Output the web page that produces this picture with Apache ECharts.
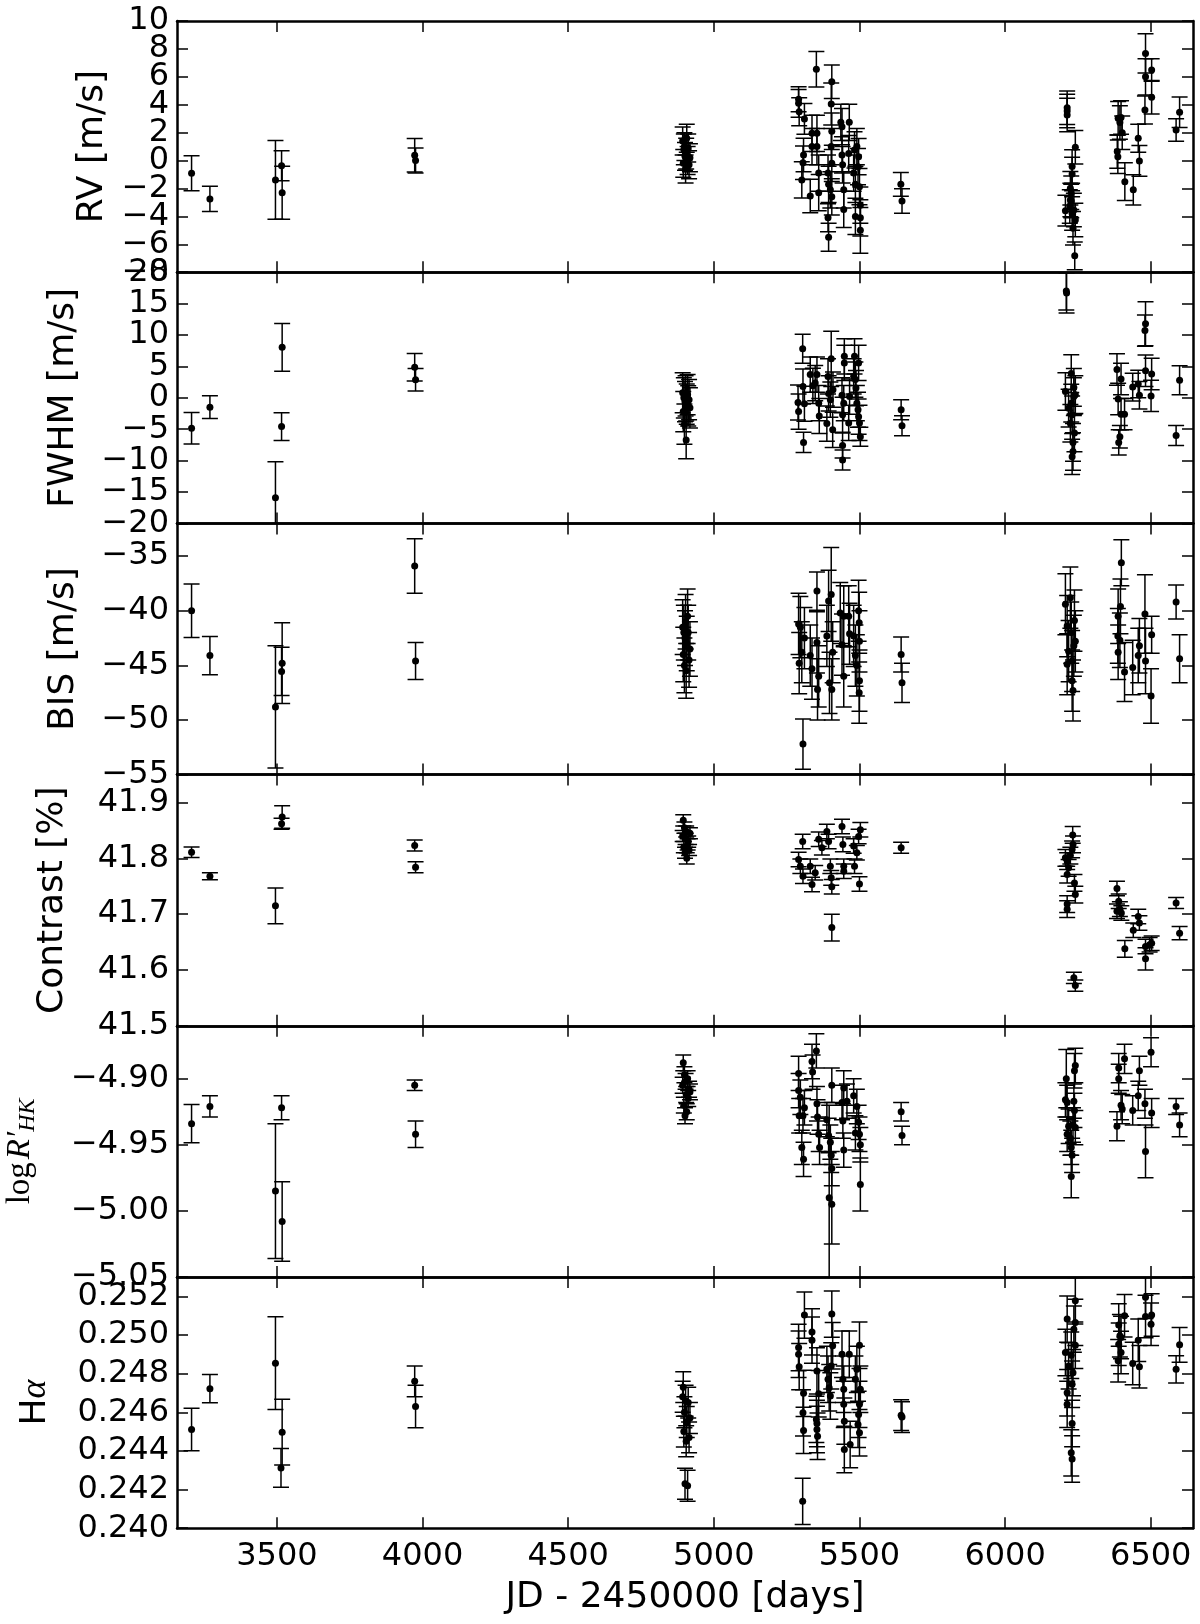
<!DOCTYPE html>
<html><head><meta charset="utf-8">
<script src="https://cdn.jsdelivr.net/npm/echarts@6/dist/echarts.min.js"></script>
<style>html,body{margin:0;padding:0;background:#fff}#c{width:1200px;height:1624px}</style>
</head><body><div id="c"></div>
<script>
// ---------- tick labels ----------
const xTicks = [3500, 4000, 4500, 5000, 5500, 6000, 6500];
const rvTicks = [-8, -6, -4, -2, 0, 2, 4, 6, 8, 10];
const fwhmTicks = [-20, -15, -10, -5, 0, 5, 10, 15, 20];
const bisTicks = [-55, -50, -45, -40, -35];
const contrastTicks = [41.5, 41.6, 41.7, 41.8, 41.9];
const rhkTicks = [-5.05, -5.00, -4.95, -4.90];
const haTicks = [0.240, 0.242, 0.244, 0.246, 0.248, 0.250, 0.252];

// ---------- data: [JD-2450000, value, error] ----------
const rvData = [
[3207,-0.91,1.25],[3270,-2.75,0.9],[3495,-1.39,2.82],[3516,-0.37,1.08],[3518,-2.3,1.9],
[3973,0.38,1.2],[3976,0.0,0.9],
[4893,1.4,1.0],[4895,-0.2,1.0],[4897,0.8,1.1],[4899,1.0,1.0],[4901,0.3,1.0],[4903,-0.6,1.0],
[4905,0.5,1.1],[4907,1.6,1.0],[4910,0.0,1.0],[4912,0.9,1.0],[4915,-0.3,1.0],[4918,0.2,1.0],
[5291,4.39,0.9],[5291,4.1,1.0],[5293,3.5,1.0],[5311,2.98,1.1],[5308,0.4,1.2],[5306,-0.15,1.2],
[5302,-1.39,1.3],[5331,-2.54,1.2],[5337,1.0,1.3],[5337,1.95,1.3],[5352,6.54,1.27],[5354,1.95,1.3],
[5354,1.0,1.3],[5360,-0.9,1.3],[5360,-2.3,1.3],[5392,-0.9,1.3],[5394,-1.7,1.3],[5392,-4.1,1.0],
[5394,-5.5,1.0],[5405,5.65,1.2],[5403,4.05,1.5],[5405,2.1,1.3],[5403,1.0,1.3],[5405,-0.2,1.3],
[5405,-2.6,1.3],[5400,-2.1,1.3],[5436,2.74,1.3],[5440,2.43,1.3],[5440,0.4,1.3],[5442,-0.3,1.3],
[5446,-2.1,1.3],[5446,-3.5,1.3],[5465,2.74,1.3],[5463,0.5,1.3],[5480,-0.9,1.3],[5486,-1.7,1.3],
[5486,-4.0,1.3],[5491,1.0,1.3],[5497,0.28,1.3],[5500,-1.87,1.3],[5503,-3.2,1.3],[5503,-4.1,1.3],
[5503,-5.0,1.64],[5495,-0.44,1.3],[5483,0.76,1.3],
[5642,-1.7,0.85],[5646,-2.9,0.88],
[6213,3.79,1.2],[6213,3.55,1.2],[6213,3.27,1.2],[6241,0.95,1.2],[6230,-0.43,1.2],[6230,-0.96,1.2],
[6224,-1.99,1.2],[6227,-2.3,1.2],[6224,-2.82,1.2],[6222,-3.3,1.2],[6207,-3.59,1.1],[6236,-3.55,1.2],
[6241,-4.26,1.2],[6233,-4.85,1.2],[6239,-6.83,1.0],[6227,-2.9,1.2],[6230,-3.8,1.2],
[6388,3.03,1.2],[6394,2.72,1.2],[6398,3.08,1.2],[6402,2.0,1.2],[6385,0.64,1.2],[6387,0.28,1.2],
[6411,-1.51,1.36],[6440,-2.1,1.08],[6457,1.6,1.0],[6461,-0.03,1.1],[6480,3.62,1.0],[6482,6.0,1.3],
[6482,7.68,1.4],[6503,6.49,0.8],[6503,4.53,1.2],
[6587,2.19,0.8],[6599,3.46,1.1]
];
const fwhmData = [
[3207,-4.84,2.5],[3270,-1.49,1.8],[3495,-15.9,5.7],[3518,8.03,3.8],[3516,-4.58,2.2],
[3973,4.87,2.2],[3976,2.87,1.8],
[4893,0.8,3.2],[4895,-2.2,3.2],[4897,0.0,3.2],[4899,-4.2,3.2],[4901,-0.6,3.2],[4903,0.3,3.2],
[4905,-6.7,3.0],[4907,-1.0,3.2],[4910,0.5,3.2],[4912,-1.3,3.2],[4915,-0.3,3.2],[4918,-1.6,3.2],
[5305,7.8,2.3],[5291,-2.2,2.8],[5289,-0.75,2.8],[5308,-7.1,1.6],[5306,1.8,2.8],[5311,-0.95,2.8],
[5331,3.7,2.8],[5340,1.9,2.8],[5348,2.35,2.8],[5354,3.7,2.8],[5360,-0.85,2.8],[5362,-2.9,2.8],
[5388,-4.1,2.8],[5392,3.4,2.8],[5394,0.7,2.8],[5403,6.2,4.4],[5400,-0.3,2.8],[5408,-5.1,2.8],
[5409,1.3,2.8],[5440,0.4,2.8],[5442,-2.7,2.8],[5442,-7.6,2.0],[5442,-9.9,1.6],[5448,6.6,2.8],
[5448,5.55,2.8],[5446,-0.85,2.8],[5466,0.2,2.8],[5463,-4.0,2.8],[5480,3.4,2.8],[5483,6.6,2.8],
[5488,1.55,2.8],[5491,-0.85,2.8],[5497,5.55,2.8],[5497,-3.0,2.8],[5500,-4.0,2.8],[5503,-6.2,1.5],
[5495,-1.9,2.8],[5486,2.9,2.8],
[5643,-1.9,1.6],[5646,-4.45,1.6],
[6210,17.0,3.0],[6211,16.7,3.2],[6227,3.85,3.0],[6207,1.0,3.0],[6236,1.65,3.0],[6241,0.5,3.0],
[6218,-1.65,3.0],[6230,-2.7,3.0],[6224,-4.05,3.0],[6238,-5.6,3.0],[6233,-7.1,3.0],[6233,-8.55,3.0],
[6230,-9.4,2.8],[6227,-0.85,3.0],[6236,0.2,3.0],
[6384,4.5,2.5],[6398,3.0,2.5],[6388,-0.2,2.5],[6398,-2.6,2.5],[6410,-2.6,2.5],[6394,-6.2,1.8],
[6390,-7.1,2.0],[6438,1.7,2.2],[6457,2.2,2.2],[6461,0.4,2.2],[6482,4.3,2.5],[6482,11.8,3.5],
[6480,10.7,2.5],[6503,3.8,2.5],[6501,0.3,2.5],
[6599,2.8,2.3],[6587,-6.0,1.6]
];
const bisData = [
[3207,-40.0,2.45],[3270,-44.1,1.75],[3495,-48.8,5.6],[3518,-44.8,3.7],[3516,-45.55,2.2],
[3973,-35.9,2.5],[3976,-44.6,1.7],
[4893,-41.5,2.5],[4895,-44.0,2.5],[4897,-42.0,2.5],[4899,-45.0,2.5],[4901,-42.5,2.5],[4903,-41.0,2.5],
[4905,-45.5,2.5],[4907,-43.0,2.5],[4910,-40.5,2.5],[4912,-42.0,2.5],[4915,-44.5,2.5],[4918,-43.5,2.5],
[5291,-41.2,2.8],[5293,-44.8,2.8],[5297,-41.5,2.8],[5302,-43.8,2.8],[5306,-52.2,2.3],[5311,-42.5,2.8],
[5331,-44.1,2.8],[5337,-45.3,2.8],[5354,-38.2,1.75],[5354,-42.9,2.8],[5356,-47.2,2.8],[5360,-46.0,2.8],
[5388,-42.3,2.8],[5394,-39.1,2.8],[5397,-46.6,2.8],[5403,-38.5,4.3],[5405,-47.2,2.8],[5408,-43.8,2.8],
[5434,-40.2,2.8],[5440,-43.1,2.8],[5446,-40.5,2.8],[5446,-46.0,2.8],[5463,-40.5,2.8],[5466,-42.1,2.8],
[5480,-42.3,2.8],[5486,-44.1,2.8],[5497,-40.0,2.8],[5499,-41.1,2.8],[5500,-42.8,2.8],[5500,-46.4,2.8],
[5499,-47.5,2.8],[5491,-45.0,2.8],
[5643,-44.0,1.6],[5646,-46.6,1.8],
[6207,-39.4,2.8],[6213,-41.4,2.8],[6218,-43.7,2.8],[6224,-38.8,2.8],[6227,-42.0,2.8],[6230,-44.6,2.8],
[6238,-40.9,2.8],[6241,-42.8,2.8],[6213,-44.9,2.8],[6230,-46.4,2.8],[6233,-47.3,2.8],[6236,-43.2,2.8],
[6399,-35.6,2.1],[6396,-39.6,2.5],[6388,-40.5,2.5],[6387,-42.3,2.5],[6394,-42.7,2.5],[6388,-43.8,2.5],
[6410,-45.6,2.7],[6438,-45.2,2.5],[6457,-44.1,2.5],[6461,-43.2,2.5],[6480,-40.3,3.6],[6482,-44.6,3.0],
[6503,-42.2,1.7],[6501,-47.8,2.5],
[6587,-39.2,1.55],[6599,-44.4,2.2]
];
const contrastData = [
[3207,41.811,0.0095],[3270,41.768,0.0063],[3495,41.715,0.032],[3518,41.874,0.02],[3516,41.862,0.01],
[3973,41.823,0.01],[3976,41.784,0.01],
[4893,41.84,0.01],[4895,41.868,0.01],[4897,41.82,0.01],[4899,41.855,0.01],[4901,41.81,0.01],
[4903,41.835,0.01],[4905,41.848,0.01],[4907,41.80,0.01],[4910,41.825,0.01],[4912,41.83,0.01],
[4915,41.815,0.01],[4918,41.845,0.01],
[5305,41.830,0.013],[5291,41.798,0.013],[5297,41.786,0.013],[5306,41.768,0.013],[5337,41.753,0.013],
[5348,41.774,0.013],[5331,41.786,0.013],[5360,41.834,0.013],[5371,41.819,0.013],[5388,41.848,0.013],
[5394,41.830,0.013],[5400,41.786,0.013],[5403,41.765,0.013],[5405,41.749,0.013],[5405,41.676,0.024],
[5440,41.857,0.013],[5443,41.825,0.013],[5446,41.786,0.013],[5446,41.777,0.013],[5480,41.822,0.013],
[5483,41.786,0.013],[5491,41.810,0.013],[5503,41.851,0.013],[5500,41.754,0.013],[5497,41.839,0.013],
[5643,41.819,0.01],
[6232,41.842,0.015],[6233,41.825,0.015],[6224,41.805,0.015],[6213,41.795,0.015],[6218,41.783,0.015],
[6213,41.771,0.015],[6238,41.756,0.015],[6241,41.735,0.015],[6213,41.718,0.015],[6213,41.709,0.015],
[6236,41.586,0.01],[6241,41.572,0.01],[6207,41.801,0.015],[6230,41.816,0.015],
[6384,41.746,0.013],[6390,41.723,0.013],[6394,41.709,0.013],[6399,41.702,0.013],[6384,41.705,0.013],
[6411,41.638,0.015],[6440,41.671,0.013],[6457,41.696,0.013],[6461,41.684,0.013],[6482,41.642,0.013],
[6482,41.620,0.02],[6503,41.648,0.013],[6496,41.645,0.013],
[6587,41.720,0.01],[6599,41.666,0.012]
];
const rhkData = [
[3207,-4.934,0.0145],[3270,-4.921,0.008],[3495,-4.985,0.051],[3518,-5.008,0.03],[3516,-4.922,0.009],
[3973,-4.905,0.004],[3976,-4.942,0.01],
[4893,-4.905,0.006],[4895,-4.888,0.006],[4897,-4.92,0.006],[4899,-4.897,0.006],[4901,-4.928,0.006],
[4903,-4.902,0.006],[4905,-4.912,0.006],[4907,-4.925,0.006],[4910,-4.90,0.006],[4912,-4.915,0.006],
[4915,-4.908,0.006],[4918,-4.91,0.006],
[5291,-4.896,0.013],[5291,-4.909,0.013],[5297,-4.914,0.013],[5293,-4.928,0.013],[5306,-4.928,0.013],
[5311,-4.922,0.013],[5302,-4.952,0.013],[5308,-4.961,0.013],[5337,-4.887,0.013],[5339,-4.895,0.013],
[5352,-4.879,0.013],[5354,-4.919,0.013],[5356,-4.929,0.013],[5360,-4.942,0.013],[5363,-4.952,0.013],
[5388,-4.931,0.013],[5394,-4.943,0.013],[5400,-4.948,0.013],[5403,-4.958,0.013],[5405,-4.905,0.013],
[5405,-4.968,0.013],[5405,-4.995,0.03],[5396,-4.99,0.07],[5440,-4.918,0.013],[5443,-4.932,0.013],
[5446,-4.907,0.013],[5446,-4.954,0.013],[5457,-4.917,0.013],[5480,-4.913,0.013],[5491,-4.921,0.013],
[5497,-4.933,0.013],[5500,-4.942,0.013],[5503,-4.950,0.013],[5503,-4.980,0.02],[5486,-4.941,0.013],
[5643,-4.925,0.007],[5646,-4.943,0.007],
[6210,-4.90,0.022],[6241,-4.890,0.013],[6238,-4.894,0.013],[6207,-4.916,0.013],[6213,-4.918,0.013],
[6236,-4.917,0.013],[6238,-4.924,0.013],[6233,-4.935,0.013],[6241,-4.937,0.013],[6213,-4.942,0.013],
[6224,-4.945,0.013],[6227,-4.952,0.013],[6230,-4.958,0.013],[6227,-4.974,0.016],[6218,-4.936,0.013],
[6410,-4.885,0.011],[6390,-4.892,0.011],[6390,-4.900,0.011],[6461,-4.894,0.011],[6501,-4.880,0.011],
[6398,-4.920,0.011],[6402,-4.923,0.011],[6384,-4.936,0.011],[6438,-4.924,0.011],[6457,-4.913,0.011],
[6480,-4.919,0.011],[6503,-4.926,0.011],[6482,-4.955,0.02],
[6587,-4.921,0.006],[6599,-4.935,0.009]
];
const haData = [
[3207,0.24511,0.0011],[3270,0.24722,0.00073],[3495,0.24854,0.0024],[3518,0.24497,0.0017],[3514,0.24312,0.001],
[3973,0.2476,0.0008],[3976,0.2463,0.0011],
[4893,0.2468,0.0008],[4895,0.2473,0.0008],[4897,0.2450,0.0008],[4899,0.2460,0.0008],[4901,0.2423,0.0008],
[4903,0.2466,0.0008],[4905,0.2445,0.0008],[4907,0.2455,0.0008],[4910,0.2422,0.0008],[4912,0.2465,0.0008],
[4915,0.2447,0.0008],[4918,0.2457,0.0008],
[5305,0.24139,0.0012],[5311,0.25103,0.0012],[5291,0.24935,0.0012],[5291,0.24900,0.0012],[5293,0.24836,0.0012],
[5308,0.24698,0.0012],[5306,0.24597,0.0012],[5308,0.24506,0.0012],[5337,0.25016,0.0012],[5337,0.24973,0.0012],
[5354,0.24814,0.0012],[5360,0.24696,0.0012],[5352,0.24563,0.0012],[5354,0.24542,0.0012],[5354,0.24511,0.0012],
[5356,0.24476,0.0012],[5388,0.24822,0.0012],[5392,0.24771,0.0012],[5396,0.24727,0.0012],[5400,0.24684,0.0012],
[5405,0.25108,0.0012],[5408,0.24944,0.0012],[5403,0.24840,0.0012],[5440,0.24900,0.0012],[5443,0.24771,0.0012],
[5446,0.24719,0.0012],[5446,0.24641,0.0012],[5448,0.24554,0.0012],[5448,0.24407,0.0012],[5465,0.24900,0.0012],
[5468,0.24433,0.0012],[5486,0.24771,0.0012],[5491,0.24822,0.0012],[5500,0.24947,0.0012],[5503,0.24719,0.0012],
[5500,0.24641,0.0012],[5497,0.24589,0.0012],[5500,0.24494,0.0012],[5495,0.24537,0.0012],
[5643,0.24585,0.0008],[5646,0.24575,0.0008],
[6241,0.25177,0.0012],[6213,0.25082,0.0012],[6241,0.25065,0.0012],[6236,0.25030,0.0012],[6241,0.24947,0.0012],
[6207,0.24909,0.0012],[6227,0.24895,0.0012],[6233,0.24805,0.0012],[6230,0.24745,0.0012],[6213,0.24701,0.0012],
[6213,0.24641,0.0012],[6230,0.24542,0.0012],[6227,0.24390,0.0012],[6230,0.24358,0.0012],[6218,0.24840,0.0012],
[6410,0.25100,0.0011],[6390,0.25051,0.0011],[6394,0.24996,0.0011],[6390,0.24952,0.0011],[6398,0.24909,0.0011],
[6388,0.24866,0.0011],[6438,0.24852,0.0011],[6457,0.24973,0.0011],[6461,0.24835,0.0011],[6482,0.25195,0.0011],
[6482,0.25096,0.0011],[6503,0.25103,0.0011],[6501,0.25056,0.0011],[6398,0.24987,0.0011],
[6599,0.24949,0.0009],[6587,0.24822,0.0007]
];

// ---------- layout / style ----------
const X_MIN = 3157, X_MAX = 6645;
const GRID_LEFT = 177, GRID_W = 1016, GRID_H = 251.2;
const GRID_TOPS = [21, 272.2, 523.4, 774.6, 1025.8, 1277];
const TICK_FONT = 32, NAME_FONT = 36;
const SANS = 'DejaVu Sans';
const SERIF = 'Liberation Serif';

const panels = [
  {name: 'RV [m/s]', data: rvData, ticks: rvTicks, min: -8, max: 10, dec: 0, gap: 66},
  {name: 'FWHM [m/s]', data: fwhmData, ticks: fwhmTicks, min: -20, max: 20, dec: 0, gap: 95},
  {name: 'BIS [m/s]', data: bisData, ticks: bisTicks, min: -55, max: -32, dec: 0, gap: 95},
  {name: 'Contrast [%]', data: contrastData, ticks: contrastTicks, min: 41.5, max: 41.95, dec: 1, gap: 106},
  {name: '{l|log}{r|R\u2032}{s|HK}', data: rhkData, ticks: rhkTicks, min: -5.05, max: -4.86, dec: 2, gap: 137,
   rich: {
     l: {fontFamily: SERIF, fontSize: 33, lineHeight: 40, color: '#000', padding: [0, 3, 0, 0]},
     r: {fontFamily: SERIF, fontStyle: 'italic', fontSize: 33, lineHeight: 40, color: '#000'},
     s: {fontFamily: SERIF, fontStyle: 'italic', fontSize: 24, lineHeight: 24, verticalAlign: 'bottom', color: '#000'}
   }},
  {name: '{h|H}{a|\u03b1}', data: haData, ticks: haTicks, min: 0.240, max: 0.253, dec: 3, gap: 123,
   rich: {
     h: {fontFamily: SANS, fontSize: 36, color: '#000'},
     a: {fontFamily: SERIF, fontStyle: 'italic', fontSize: 36, color: '#000'}
   }}
];

const fmt = (v, dec) => {
  let s = Number(v).toFixed(dec);
  if (Number(s) === 0) s = (0).toFixed(dec);
  return s.replace('-', '\u2212');
};

const lineStyleAxis = {color: '#000', width: 2.5};
const tickStyle = {color: '#000', width: 1.5};

const grids = [], xAxes = [], yAxes = [], series = [];

function errRender(params, api) {
  const x = api.value(0), y = api.value(1), e = api.value(2);
  const lo = api.coord([x, y - e]), hi = api.coord([x, y + e]);
  const hw = 8;
  const st = {stroke: '#000', lineWidth: 1.5, fill: null};
  return {type: 'group', children: [
    {type: 'line', shape: {x1: lo[0], y1: lo[1], x2: hi[0], y2: hi[1]}, style: st},
    {type: 'line', shape: {x1: lo[0] - hw, y1: lo[1], x2: lo[0] + hw, y2: lo[1]}, style: st},
    {type: 'line', shape: {x1: hi[0] - hw, y1: hi[1], x2: hi[0] + hw, y2: hi[1]}, style: st}
  ]};
}

const labelStyle = {color: '#000', fontFamily: SANS, fontSize: TICK_FONT, hideOverlap: false,
  showMinLabel: true, showMaxLabel: true};

panels.forEach((p, i) => {
  grids.push({left: GRID_LEFT, top: GRID_TOPS[i], width: GRID_W, height: GRID_H,
    containLabel: false, outerBoundsMode: 'none', show: false});
  const last = i === panels.length - 1;
  const xBase = {
    gridIndex: i, type: 'value', min: X_MIN, max: X_MAX,
    axisLine: {show: true, onZero: false, lineStyle: lineStyleAxis},
    axisTick: {show: true, inside: true, length: 11, lineStyle: tickStyle, customValues: xTicks},
    splitLine: {show: false}, silent: true
  };
  xAxes.push(Object.assign({}, xBase, {
    position: 'bottom',
    axisLabel: Object.assign({show: last, customValues: xTicks, margin: 12,
      formatter: v => String(v)}, labelStyle),
    name: last ? 'JD - 2450000 [days]' : '', nameLocation: 'middle', nameGap: 51,
    nameMoveOverlap: false,
    nameTextStyle: {fontFamily: SANS, fontSize: NAME_FONT, color: '#000'}
  }));
  xAxes.push(Object.assign({}, xBase, {position: 'top', axisLabel: {show: false}}));

  // labels split over two coincident axes so that tightly packed labels all stay visible
  const evenTicks = p.ticks.filter((_, k) => k % 2 === 0);
  const oddTicks = p.ticks.filter((_, k) => k % 2 === 1);
  const yBase = {
    gridIndex: i, type: 'value', min: p.min, max: p.max,
    axisLine: {show: true, onZero: false, lineStyle: lineStyleAxis},
    axisTick: {show: true, inside: true, length: 11, lineStyle: tickStyle, customValues: p.ticks},
    splitLine: {show: false}, silent: true
  };
  const nts = {fontFamily: SANS, fontSize: NAME_FONT, color: '#000'};
  if (p.rich) nts.rich = p.rich;
  yAxes.push(Object.assign({}, yBase, {
    position: 'left',
    axisLabel: Object.assign({show: true, customValues: evenTicks, margin: 8,
      formatter: v => fmt(v, p.dec)}, labelStyle),
    name: p.name, nameLocation: 'middle', nameGap: p.gap, nameMoveOverlap: false,
    nameTextStyle: nts
  }));
  yAxes.push(Object.assign({}, yBase, {position: 'right', axisLabel: {show: false}}));
  yAxes.push(Object.assign({}, yBase, {
    position: 'left',
    axisLine: {show: false, onZero: false},
    axisTick: {show: false},
    axisLabel: Object.assign({show: oddTicks.length > 0, customValues: oddTicks, margin: 8,
      formatter: v => fmt(v, p.dec)}, labelStyle)
  }));

  series.push({
    type: 'custom', xAxisIndex: 2 * i, yAxisIndex: 3 * i, clip: true, silent: true,
    renderItem: errRender, encode: {x: 0, y: 1}, data: p.data, animation: false, z: 2
  });
  series.push({
    type: 'scatter', xAxisIndex: 2 * i, yAxisIndex: 3 * i, silent: true,
    symbol: 'circle', symbolSize: 7, itemStyle: {color: '#000', opacity: 1},
    data: p.data.map(d => [d[0], d[1]]), animation: false, z: 3, clip: true
  });
});

const chart = echarts.init(document.getElementById('c'), null, {renderer: 'canvas'});
chart.setOption({
  backgroundColor: '#fff', animation: false,
  grid: grids, xAxis: xAxes, yAxis: yAxes, series: series
});
</script></body></html>
